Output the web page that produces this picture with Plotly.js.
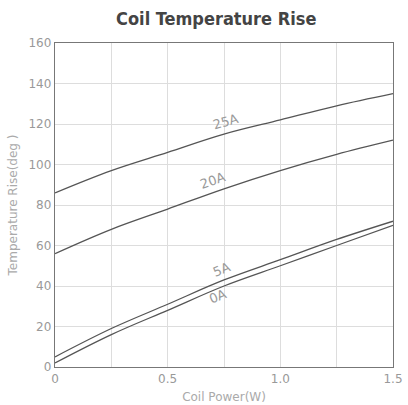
<!DOCTYPE html>
<html>
<head>
<meta charset="utf-8">
<script src="https://cdn.plot.ly/plotly-3.0.1.min.js"></script>
<style>html,body{margin:0;padding:0;background:#fff;}#chart{width:408px;height:405px;}</style>
</head>
<body>
<div id="chart"></div>
<script>
const power = [0, 0.25, 0.5, 0.75, 1.0, 1.25, 1.5];
const rise25A = [86, 97, 106, 115, 122, 129, 135];
const rise20A = [56, 68, 78, 88, 97, 105, 112];
const rise5A = [5, 19, 31, 43, 53, 63, 72];
const rise0A = [2, 16, 28, 40, 50, 60, 70];
const seriesNames = ["25A", "20A", "5A", "0A"];
const seriesValues = [rise25A, rise20A, rise5A, rise0A];
const labelX = [0.76, 0.70, 0.74, 0.72];
const labelY = [121, 92, 48, 35];
const labelAngle = [-16, -19, -22, -22];

const traces = seriesValues.map((v, i) => ({
  x: power, y: v, type: 'scatter', mode: 'lines', name: seriesNames[i],
  line: {color: '#555', width: 1.3, shape: 'spline'}, hoverinfo: 'skip'
}));

const annotations = seriesNames.map((n, i) => ({
  x: labelX[i], y: labelY[i], xref: 'x', yref: 'y', text: n, showarrow: false,
  textangle: labelAngle[i], font: {family: 'DejaVu Sans', size: 13, color: '#999'}
}));

const layout = {
  width: 408, height: 405,
  margin: {l: 55, r: 15, t: 43, b: 38},
  paper_bgcolor: '#fff', plot_bgcolor: '#fff',
  showlegend: false,
  title: {text: 'Coil Temperature Rise', x: 0.53, xanchor: 'center', y: 0.955, yanchor: 'middle',
    font: {family: 'DejaVu Sans Condensed, DejaVu Sans, sans-serif', size: 18, weight: 'bold', color: '#444'}},
  xaxis: {
    range: [0, 1.5], tickvals: [0, 0.5, 1.0, 1.5], ticktext: ['0', '0.5', '1.0', '1.5'],
    showgrid: false, zeroline: false, showline: true, mirror: true, linecolor: '#777', linewidth: 1.2,
    ticks: '', tickfont: {family: 'DejaVu Sans', size: 12, color: '#999'},
    title: {text: 'Coil Power(W)', standoff: 8, font: {family: 'DejaVu Sans', size: 12, color: '#aaa'}}
  },
  yaxis: {
    range: [0, 160], dtick: 20, tick0: 0,
    showgrid: true, gridcolor: '#ddd', gridwidth: 1, zeroline: false,
    showline: true, mirror: true, linecolor: '#777', linewidth: 1.2,
    ticks: '', tickfont: {family: 'DejaVu Sans', size: 12, color: '#999'},
    title: {text: 'Temperature Rise(deg )', standoff: 8, font: {family: 'DejaVu Sans', size: 12, color: '#aaa'}}
  },
  xaxis2: {overlaying: 'x', range: [0, 1.5], dtick: 0.25, tick0: 0, showgrid: true, gridcolor: '#ddd',
    showticklabels: false, zeroline: false, matches: 'x'},
  annotations: annotations
};

traces.push({x: [0], y: [0], xaxis: 'x2', yaxis: 'y', mode: 'markers', marker: {opacity: 0}, hoverinfo: 'skip', showlegend: false});

Plotly.newPlot('chart', traces, layout, {displayModeBar: false, staticPlot: true});
</script>
</body>
</html>
